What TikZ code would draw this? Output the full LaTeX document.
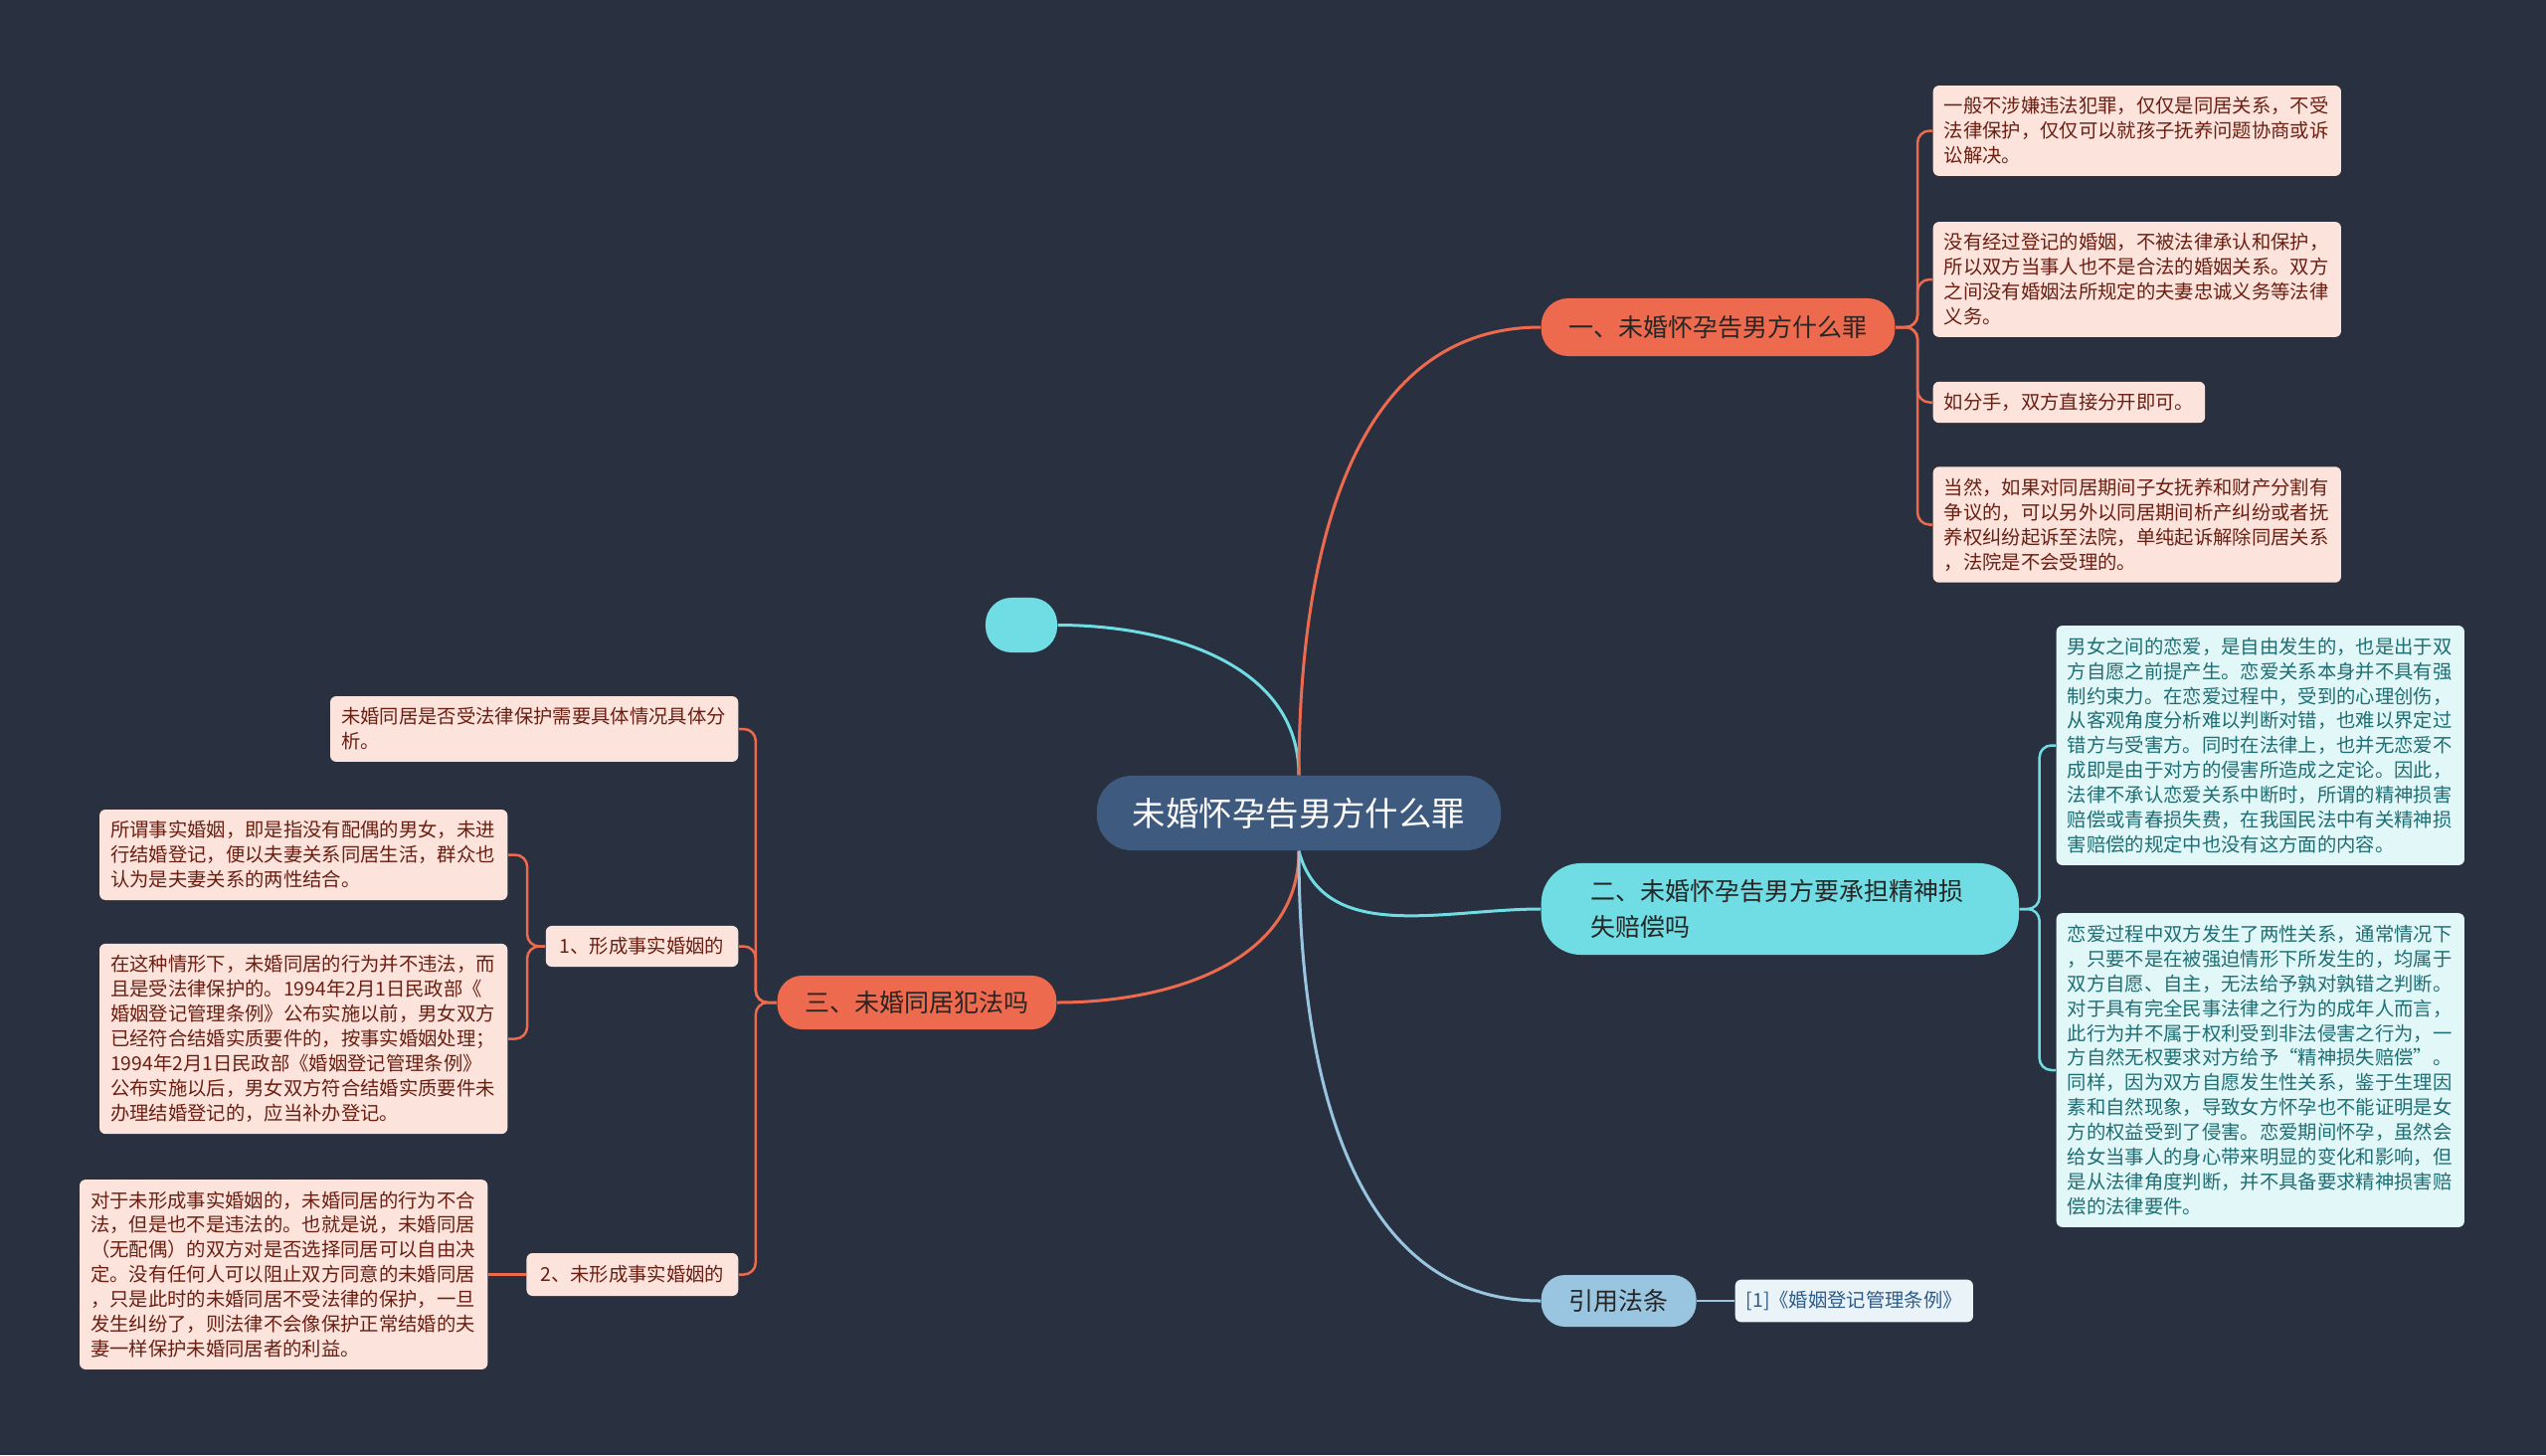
\documentclass[tikz,border=0pt]{standalone}
\usepackage{fontspec}
\setmainfont{Noto Sans CJK SC}
\usepackage{tikz}
\usetikzlibrary{positioning}

\definecolor{bgcol}{HTML}{293140}
\definecolor{salmon}{HTML}{EE6A4E}
\definecolor{cyanb}{HTML}{6FDDE3}
\definecolor{rootcol}{HTML}{3E5A7E}
\definecolor{refblue}{HTML}{9AC5E0}
\definecolor{pinkleaf}{HTML}{FCE4DC}
\definecolor{pinktext}{HTML}{6B1F12}
\definecolor{cyanleaf}{HTML}{E2F7F8}
\definecolor{cyantext}{HTML}{1E6E74}
\definecolor{refleaf}{HTML}{EAF3F8}
\definecolor{reftext}{HTML}{2C5C8A}

\tikzset{
  root/.style={fill=rootcol, text=white, rounded corners=0.35cm, minimum height=0.75cm,
    inner xsep=0.36cm, font=\fontsize{9.5pt}{11pt}\selectfont},
  branch/.style={rounded corners=0.27cm, minimum height=0.58cm, inner xsep=0.28cm,
    text=black!85, font=\fontsize{7.1pt}{10pt}\selectfont},
  leaf/.style={rounded corners=0.06cm, inner xsep=0.11cm, inner ysep=0.115cm, align=left,
    font=\fontsize{5.5pt}{7.1pt}\selectfont},
  pinkbox/.style={leaf, fill=pinkleaf, text=pinktext},
  cyanbox/.style={leaf, fill=cyanleaf, text=cyantext, text width=3.88cm},
  link/.style={line width=0.03cm},
  twig/.style={line width=0.025cm, rounded corners=0.12cm},
}

\begin{document}
\begin{tikzpicture}[x=0.01cm, y=-0.01cm]
    \fill[bgcol] (0,0) rectangle (2560,1463); % fond
    \useasboundingbox (0,0) rectangle (2560,1463);

    % centre
    \node[root] (root) at (1306,817.5) {未婚怀孕告男方什么罪};
    \node[fill=cyanb, rounded corners=0.26cm, minimum width=0.72cm, minimum height=0.55cm] (blank) at (1027,628.5) {};

    % branches
    \node[branch, fill=salmon, anchor=west] (b1) at (1549,329) {一、未婚怀孕告男方什么罪};
    \node[branch, fill=cyanb, anchor=west, text width=3.8cm, align=left, minimum height=0.92cm,
      inner xsep=0.5cm, rounded corners=0.4cm] (b2) at (1549,914) {二、未婚怀孕告男方要承担精神损\\失赔偿吗};
    \node[branch, fill=salmon, anchor=east, minimum height=0.54cm, rounded corners=0.25cm] (b3) at (1063,1008) {三、未婚同居犯法吗};
    \node[branch, fill=refblue, anchor=west, minimum height=0.52cm, rounded corners=0.24cm] (b4) at (1549,1308) {引用法条};

    % feuilles de b1
    \node[pinkbox, text width=3.88cm, anchor=west] (a1) at (1943,131.5) {一般不涉嫌违法犯罪，仅仅是同居关系，不受\\法律保护，仅仅可以就孩子抚养问题协商或诉\\讼解决。};
    \node[pinkbox, text width=3.88cm, anchor=west] (a2) at (1943,281) {没有经过登记的婚姻，不被法律承认和保护，\\所以双方当事人也不是合法的婚姻关系。双方\\之间没有婚姻法所规定的夫妻忠诚义务等法律\\义务。};
    \node[pinkbox, anchor=west] (a3) at (1943,404.5) {如分手，双方直接分开即可。};
    \node[pinkbox, text width=3.88cm, anchor=west] (a4) at (1943,527.5) {当然，如果对同居期间子女抚养和财产分割有\\争议的，可以另外以同居期间析产纠纷或者抚\\养权纠纷起诉至法院，单纯起诉解除同居关系\\，法院是不会受理的。};

    % feuilles de b2
    \node[cyanbox, anchor=west] (c1) at (2067,749.5) {男女之间的恋爱，是自由发生的，也是出于双\\方自愿之前提产生。恋爱关系本身并不具有强\\制约束力。在恋爱过程中，受到的心理创伤，\\从客观角度分析难以判断对错，也难以界定过\\错方与受害方。同时在法律上，也并无恋爱不\\成即是由于对方的侵害所造成之定论。因此，\\法律不承认恋爱关系中断时，所谓的精神损害\\赔偿或青春损失费，在我国民法中有关精神损\\害赔偿的规定中也没有这方面的内容。};
    \node[cyanbox, anchor=west] (c2) at (2067,1076) {恋爱过程中双方发生了两性关系，通常情况下\\，只要不是在被强迫情形下所发生的，均属于\\双方自愿、自主，无法给予孰对孰错之判断。\\对于具有完全民事法律之行为的成年人而言，\\此行为并不属于权利受到非法侵害之行为，一\\方自然无权要求对方给予“精神损失赔偿”。\\同样，因为双方自愿发生性关系，鉴于生理因\\素和自然现象，导致女方怀孕也不能证明是女\\方的权益受到了侵害。恋爱期间怀孕，虽然会\\给女当事人的身心带来明显的变化和影响，但\\是从法律角度判断，并不具备要求精神损害赔\\偿的法律要件。};

    % feuilles de b3
    \node[pinkbox, text width=3.88cm, anchor=east] (p1) at (743,733) {未婚同居是否受法律保护需要具体情况具体分\\析。};
    \node[pinkbox, anchor=east, minimum height=0.39cm, inner xsep=0.14cm] (s1) at (743,951.5) {1、形成事实婚姻的};
    \node[pinkbox, anchor=east, minimum height=0.43cm, inner xsep=0.14cm] (s2) at (743,1281.5) {2、未形成事实婚姻的};
    \node[pinkbox, text width=3.88cm, anchor=east] (p2) at (511,859.5) {所谓事实婚姻，即是指没有配偶的男女，未进\\行结婚登记，便以夫妻关系同居生活，群众也\\认为是夫妻关系的两性结合。};
    \node[pinkbox, text width=3.88cm, anchor=east] (p3) at (511,1044.5) {在这种情形下，未婚同居的行为并不违法，而\\且是受法律保护的。1994年2月1日民政部《\\婚姻登记管理条例》公布实施以前，男女双方\\已经符合结婚实质要件的，按事实婚姻处理；\\1994年2月1日民政部《婚姻登记管理条例》\\公布实施以后，男女双方符合结婚实质要件未\\办理结婚登记的，应当补办登记。};
    \node[pinkbox, text width=3.88cm, anchor=east] (p4) at (491,1281.5) {对于未形成事实婚姻的，未婚同居的行为不合\\法，但是也不是违法的。也就是说，未婚同居\\（无配偶）的双方对是否选择同居可以自由决\\定。没有任何人可以阻止双方同意的未婚同居\\，只是此时的未婚同居不受法律的保护，一旦\\发生纠纷了，则法律不会像保护正常结婚的夫\\妻一样保护未婚同居者的利益。};

    % feuille de b4
    \node[leaf, fill=refleaf, text=reftext, anchor=west, minimum height=0.42cm] (r1) at (1744,1308) {[1]《婚姻登记管理条例》};

    % points de jonction
    \coordinate (j1) at ([xshift=0.22cm]b1.east);
    \coordinate (j2) at ([xshift=0.2cm]b2.east);
    \coordinate (j3) at ([xshift=-0.21cm]b3.west);
    \coordinate (j4) at ([xshift=-0.18cm]s1.west);

    % liens principaux
    \draw[link, cyanb] (blank.east) to[out=0, in=90] (root.north);
    \draw[link, salmon] (root.north) to[out=90, in=180] (b1.west);
    \draw[link, cyanb] (root.south) to[out=-75, in=180] (b2.west);
    \draw[link, salmon] (root.south) to[out=-90, in=0] (b3.east);
    \draw[link, refblue] (root.south) to[out=-90, in=180] (b4.west);

    % liens vers les feuilles
    \foreach \n in {a1,a2,a3,a4} \draw[twig, salmon] (b1.east) -- (j1) |- (\n.west);
    \foreach \n in {c1,c2} \draw[twig, cyanb] (b2.east) -- (j2) |- (\n.west);
    \foreach \n in {p1,s1,s2} \draw[twig, salmon] (b3.west) -- (j3) |- (\n.east);
    \foreach \n in {p2,p3} \draw[twig, salmon] (s1.west) -- (j4) |- (\n.east);
    \draw[twig, salmon] (s2.west) -- (p4.east);
    \draw[twig, refblue] (b4.east) -- (r1.west);
\end{tikzpicture}
\end{document}
